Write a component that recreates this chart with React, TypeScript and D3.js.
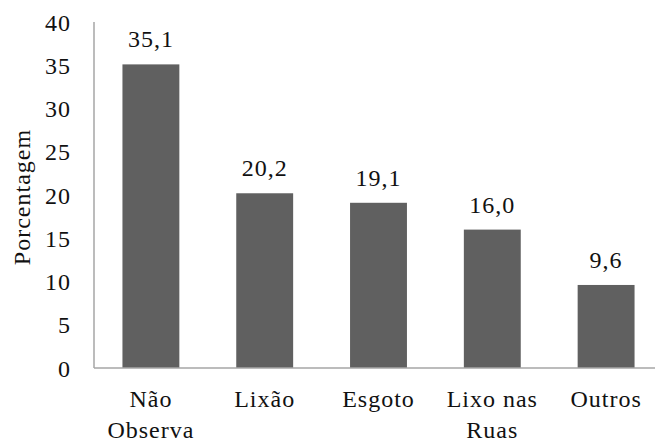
import React from 'react';
import * as d3 from 'd3';

const categories = ['Não Observa', 'Lixão', 'Esgoto', 'Lixo nas Ruas', 'Outros'];
const labelLines = [['Não', 'Observa'], ['Lixão'], ['Esgoto'], ['Lixo nas', 'Ruas'], ['Outros']];
const values = [35.1, 20.2, 19.1, 16.0, 9.6];
const yTicks = [0, 5, 10, 15, 20, 25, 30, 35, 40];

const W = 655;
const H = 445;

const App: React.FC = () => {
  const x = d3.scaleBand<string>().domain(categories).range([94, 663]).paddingInner(0.5).paddingOuter(0.25);
  const y = d3.scaleLinear().domain([0, 40]).range([368, 22]);
  const fmt = (v: number) => v.toFixed(1).replace('.', ',');
  const txt = { fontFamily: "'Liberation Serif', 'Times New Roman', Times, serif", fontSize: 24, letterSpacing: 1 };

  return (
    <svg width={W} height={H} style={{ position: 'absolute', left: 0, top: 0, background: '#fff' }}>
      {/* y axis */}
      <line x1={94} x2={94} y1={y(40)} y2={y(0)} stroke="#a6a6a6" strokeWidth={1.5} />
      {yTicks.map(t => (
        <text key={t} style={txt} x={71} y={y(t)} dy="0.36em" textAnchor="end" fill="#111">{t}</text>
      ))}
      <text style={txt} transform={`translate(30,197) rotate(-90)`} textAnchor="middle" fill="#111">Porcentagem</text>

      {/* bars */}
      {categories.map((c, i) => (
        <g key={c}>
          <rect x={x(c)} y={y(values[i])} width={x.bandwidth()} height={y(0) - y(values[i])} fill="#606060" />
          <text style={txt} x={(x(c) as number) + x.bandwidth() / 2} y={y(values[i]) - 17} textAnchor="middle" fill="#111">
            {fmt(values[i])}
          </text>
          {labelLines[i].map((ln, j) => (
            <text key={j} style={txt} x={(x(c) as number) + x.bandwidth() / 2} y={407 + j * 31} textAnchor="middle" fill="#111">
              {ln}
            </text>
          ))}
        </g>
      ))}
      {/* baseline */}
      <line x1={94} x2={663} y1={y(0)} y2={y(0)} stroke="#a6a6a6" strokeWidth={1.5} />
    </svg>
  );
};

export default App;
